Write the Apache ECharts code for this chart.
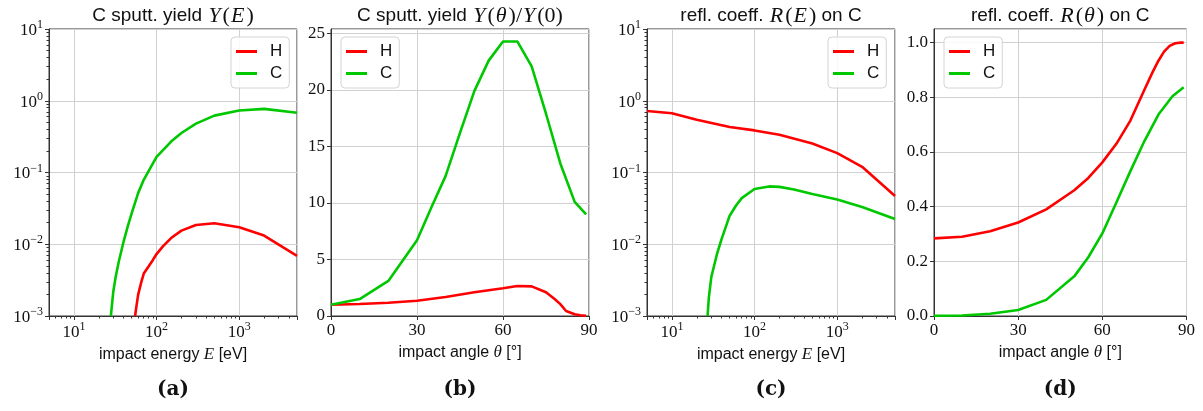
<!DOCTYPE html>
<html>
<head>
<meta charset="utf-8">
<script src="https://cdn.jsdelivr.net/npm/echarts@6/dist/echarts.min.js"></script>
<style>
  html, body { margin: 0; padding: 0; background: #fff; }
  #chart { width: 1203px; height: 411px; }
</style>
</head>
<body>
<div id="chart"></div>
<script>
// (a) carbon sputtering yield vs impact energy
const aEnergyH = [55, 57, 60, 65, 70, 80, 90, 100, 120, 150, 200, 300, 500, 1000, 2000, 5000];
const aYieldH  = [0.001, 0.00135, 0.002, 0.0029, 0.0039, 0.0049, 0.006, 0.0073, 0.0094, 0.0122, 0.0155, 0.0185, 0.0196, 0.0173, 0.0132, 0.0069];
const aEnergyC = [28, 30, 32, 35, 40, 45, 50, 60, 70, 100, 150, 200, 300, 500, 1000, 2000, 5000];
const aYieldC  = [0.001, 0.0022, 0.0035, 0.0058, 0.011, 0.018, 0.027, 0.052, 0.079, 0.165, 0.27, 0.355, 0.48, 0.62, 0.73, 0.77, 0.68];

// (b) normalised sputtering yield vs impact angle
const bAngleH = [0, 10, 20, 30, 40, 50, 60, 65, 70, 75, 78, 80, 82, 85, 87, 89];
const bYieldH = [1.0, 1.06, 1.17, 1.35, 1.68, 2.1, 2.45, 2.65, 2.62, 2.1, 1.5, 1.05, 0.44, 0.15, 0.06, 0.02];
const bAngleC = [0, 10, 20, 30, 35, 40, 45, 50, 55, 60, 65, 70, 75, 80, 85, 89];
const bYieldC = [1.0, 1.5, 3.1, 6.7, 9.6, 12.4, 16.2, 19.9, 22.6, 24.3, 24.3, 22.1, 17.9, 13.5, 10.1, 9.0];

// (c) reflection coefficient vs impact energy
const cEnergyH = [5, 10, 20, 50, 100, 200, 500, 1000, 2000, 5000];
const cReflH   = [0.72, 0.67, 0.545, 0.43, 0.386, 0.336, 0.254, 0.186, 0.12, 0.047];
const cEnergyC = [27, 28, 30, 35, 40, 50, 60, 70, 100, 150, 200, 300, 500, 1000, 2000, 5000];
const cReflC   = [0.001, 0.0018, 0.0035, 0.0072, 0.0119, 0.025, 0.035, 0.044, 0.059, 0.064, 0.063, 0.058, 0.05, 0.042, 0.033, 0.0225];

// (d) reflection coefficient vs impact angle
const dAngleH = [0, 10, 20, 30, 40, 50, 55, 60, 65, 70, 75, 78, 80, 82, 84, 86, 88, 89];
const dReflH  = [0.284, 0.29, 0.31, 0.342, 0.39, 0.46, 0.505, 0.562, 0.63, 0.715, 0.828, 0.894, 0.934, 0.967, 0.988, 0.998, 1.0, 1.0];
const dAngleC = [0, 10, 20, 30, 40, 50, 55, 60, 65, 70, 75, 80, 85, 89];
const dReflC  = [0.001, 0.002, 0.008, 0.022, 0.059, 0.145, 0.215, 0.302, 0.415, 0.53, 0.64, 0.737, 0.804, 0.837];

const angleTicks = [0, 30, 60, 90];
const panelLabels = ['(a)', '(b)', '(c)', '(d)'];

const RED = '#ff0000';
const GREEN = '#00c800';
const SANS = 'Liberation Sans';
const SERIF = 'Liberation Serif';
const INK = '#111';
const SPINE = '#333';
const GRIDC = '#d0d0d0';

// plot areas [left, top, width, height]
const boxes = [
  [49, 29, 248, 287],
  [331, 29, 258, 287],
  [647, 29, 248, 287],
  [934, 29, 252.5, 287]
];

const pairs = (xs, ys) => xs.map((x, i) => [x, ys[i]]);

// title text: sans words, math symbols in serif (italic for variables)
const mathRich = {
  t: { fontFamily: SANS, fontSize: 19, fontWeight: 'normal', color: INK },
  i: { fontFamily: SERIF, fontStyle: 'italic', fontWeight: 'normal', fontSize: 22, color: INK, padding: [0, 2, 0, 1] },
  r: { fontFamily: SERIF, fontWeight: 'normal', fontSize: 22, color: INK }
};
const nameRich = {
  t: { fontFamily: SANS, fontSize: 16, color: INK },
  i: { fontFamily: SERIF, fontStyle: 'italic', fontSize: 17, color: INK }
};
const powRich = {
  b: { fontFamily: SERIF, fontSize: 17, color: INK, verticalAlign: 'bottom', lineHeight: 20 },
  s: { fontFamily: SERIF, fontSize: 12, color: INK, verticalAlign: 'top', lineHeight: 12 }
};

function powLabel(v) {
  const e = Math.round(Math.log10(v));
  if (Math.abs(v - Math.pow(10, e)) / v > 1e-6) return '';
  return '{b|10}{s|' + (e < 0 ? '\u2212' + (-e) : String(e)) + '}';
}

const titles = [
  '{t|C sputt. yield }{i|Y}{r|(}{i|E}{r|)}',
  '{t|C sputt. yield }{i|Y}{r|(}{i|θ}{r|)/}{i|Y}{r|(0)}',
  '{t|refl. coeff. }{i|R}{r|(}{i|E}{r|)}{t| on C}',
  '{t|refl. coeff. }{i|R}{r|(}{i|θ}{r|)}{t| on C}'
];
const xNames = [
  '{t|impact energy }{i|E}{t| [eV]}',
  '{t|impact angle }{i|θ}{t| [°]}',
  '{t|impact energy }{i|E}{t| [eV]}',
  '{t|impact angle }{i|θ}{t| [°]}'
];

const tickCommon = {
  axisLine: { show: true, onZero: false, lineStyle: { color: SPINE, width: 1 } },
  axisTick: { show: true, inside: false, length: 4, lineStyle: { color: SPINE, width: 1 } },
  splitLine: { show: true, lineStyle: { color: GRIDC, width: 1 } }
};

const minorLog = { show: true, splitNumber: 9, length: 2.5, lineStyle: { color: SPINE, width: 1 } };

function logXAxis(g) {
  return Object.assign({}, tickCommon, {
    type: 'log', logBase: 10, gridIndex: g, min: 5, max: 5000,
    minorTick: minorLog,
    axisLabel: { formatter: powLabel, rich: powRich, margin: 5, color: INK },
    name: xNames[g], nameLocation: 'middle', nameGap: 27,
    nameTextStyle: { rich: nameRich }
  });
}
function logYAxis(g) {
  return Object.assign({}, tickCommon, {
    type: 'log', logBase: 10, gridIndex: g, min: 0.001, max: 10,
    minorTick: minorLog,
    axisLabel: { formatter: powLabel, rich: powRich, margin: 6, color: INK }
  });
}
function angleXAxis(g) {
  return Object.assign({}, tickCommon, {
    type: 'value', gridIndex: g, min: angleTicks[0], max: angleTicks[angleTicks.length - 1], interval: 30,
    axisLabel: { fontFamily: SERIF, fontSize: 17, color: INK, margin: 6 },
    name: xNames[g], nameLocation: 'middle', nameGap: 27,
    nameTextStyle: { rich: nameRich }
  });
}
function linYAxis(g, max, step, digits) {
  return Object.assign({}, tickCommon, {
    type: 'value', gridIndex: g, min: 0, max: max, interval: step,
    axisLabel: {
      fontFamily: SERIF, fontSize: 17, color: INK, margin: 6, showMaxLabel: false,
      formatter: v => (v > max - 1e-9 && Math.abs(v / step - Math.round(v / step)) > 1e-6) ? '' : v.toFixed(digits)
    }
  });
}

function line(name, g, data, color) {
  return {
    type: 'line', name: name, xAxisIndex: g, yAxisIndex: g, data: data,
    showSymbol: false, symbol: 'none', clip: true, animation: false,
    lineStyle: { color: color, width: 2.6 }, itemStyle: { color: color }
  };
}

function legendAt(left, top) {
  return {
    orient: 'vertical', left: left, top: top, data: ['H', 'C'],
    icon: 'rect', itemWidth: 21, itemHeight: 3, itemGap: 5,
    padding: [6, 7, 6, 5], selectedMode: false,
    backgroundColor: 'rgba(255,255,255,0.85)', borderColor: '#d4d4d4', borderWidth: 1, borderRadius: 4,
    textStyle: { fontFamily: SANS, fontSize: 17, color: INK, padding: [0, 0, 0, 8], lineHeight: 17 }
  };
}

const option = {
  animation: false,
  backgroundColor: '#fff',
  title: boxes.map((b, g) => ({
    text: titles[g], left: b[0] + b[2] / 2, top: 5, textAlign: 'center', padding: 0,
    textStyle: { fontWeight: 'normal', rich: mathRich }
  })).concat(boxes.map((b, g) => ({
    text: panelLabels[g], left: b[0] + b[2] / 2, top: 380, textAlign: 'center', padding: 0,
    textStyle: { fontFamily: 'DejaVu Serif', fontWeight: 'bold', fontSize: 20, color: INK }
  }))),
  grid: boxes.map(b => ({
    left: b[0], top: b[1], width: b[2], height: b[3], containLabel: false,
    outerBoundsMode: 'none',
    show: true, borderColor: SPINE, borderWidth: 1, backgroundColor: 'transparent'
  })),
  legend: [legendAt(231, 37), legendAt(341, 37), legendAt(828, 37), legendAt(944, 37)],
  xAxis: [logXAxis(0), angleXAxis(1), logXAxis(2), angleXAxis(3)],
  yAxis: [logYAxis(0), linYAxis(1, 25.4, 5, 0), logYAxis(2), linYAxis(3, 1.05, 0.2, 1)],
  series: [
    line('H', 0, pairs(aEnergyH, aYieldH), RED),
    line('C', 0, pairs(aEnergyC, aYieldC), GREEN),
    line('H', 1, pairs(bAngleH, bYieldH), RED),
    line('C', 1, pairs(bAngleC, bYieldC), GREEN),
    line('H', 2, pairs(cEnergyH, cReflH), RED),
    line('C', 2, pairs(cEnergyC, cReflC), GREEN),
    line('H', 3, pairs(dAngleH, dReflH), RED),
    line('C', 3, pairs(dAngleC, dReflC), GREEN)
  ]
};

const chart = echarts.init(document.getElementById('chart'), null, { renderer: 'canvas' });
chart.setOption(option);
</script>
</body>
</html>
